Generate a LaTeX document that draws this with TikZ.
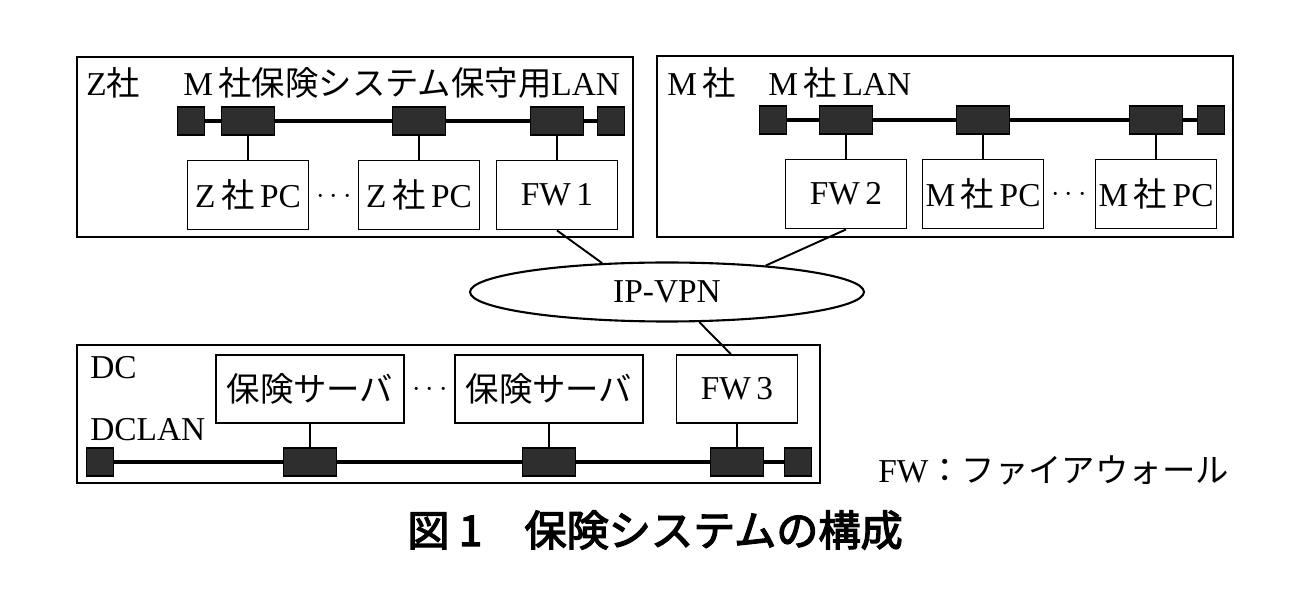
\documentclass[tikz,border=0pt]{standalone}
\usepackage{fontspec}
\setmainfont{Liberation Serif}
\newfontfamily\jafont{Noto Sans CJK JP}
\newfontfamily\capfont{Noto Sans CJK JP}[FakeBold=3]
\usetikzlibrary{shapes.geometric}
\newcommand\ja[1]{{\jafont #1}}

\begin{document}
\begin{tikzpicture}[x=0.02cm,y=-0.02cm,
    every node/.style={font=\fontsize{19}{21}\selectfont},
    unit/.style={draw,line width=1.1pt,fill=white,minimum width=2.42cm,minimum height=1.38cm,inner sep=0pt},
    srv/.style={unit,minimum width=3.76cm,minimum height=1.36cm},
    hub/.style={draw=black,fill=black!82,line width=0.6pt,minimum width=1.06cm,minimum height=0.56cm,inner sep=0pt},
    endcap/.style={hub,minimum width=0.54cm},
    site/.style={draw,line width=1.5pt},
    lbl/.style={anchor=west,inner sep=0pt},
    vpnshape/.style={ellipse,draw,line width=1.2pt,minimum width=7.88cm,minimum height=1.18cm,inner sep=0pt},
    lan/.style={line width=2pt}]

  \useasboundingbox (0,0) rectangle (1314,590);

  % sites
  \draw[site] (77,57) rectangle (633,237);
  \draw[site] (657,56) rectangle (1233,237);
  \draw[site] (77,345) rectangle (820,483);

  % labels
  \draw
    (86,83) node[lbl] (zsha){Z\ja{社}}
    (183,83) node[lbl] (zlan){M\,\ja{社保険システム保守用}LAN}
    (667,83) node[lbl] (msha){M\,\ja{社}}
    (768,83) node[lbl] (mlan){M\,\ja{社}\,LAN}
    (90,368) node[lbl] (dc){DC}
    (90,430) node[lbl] (dclan){DCLAN};

  % Z LAN
  \draw
    (191,121) node[endcap] (zt1){}
    (248,121) node[hub] (zh1){}
    (419,121) node[hub] (zh2){}
    (557,121) node[hub] (zh3){}
    (611,121) node[endcap] (zt2){};
  \draw
    (248,195) node[unit] (zpc1){Z\,\ja{社}\,PC}
    (419,195) node[unit] (zpc2){Z\,\ja{社}\,PC}
    (557,195) node[unit] (fw1){FW\,1}
    (334,197) node (zdots){$\cdots$};

  % M LAN
  \draw
    (773,120) node[endcap] (mt1){}
    (846,120) node[hub] (mh1){}
    (983,120) node[hub] (mh2){}
    (1156,120) node[hub] (mh3){}
    (1211,120) node[endcap] (mt2){};
  \draw
    (846,194) node[unit] (fw2){FW\,2}
    (983,194) node[unit] (mpc1){M\,\ja{社}\,PC}
    (1156,194) node[unit] (mpc2){M\,\ja{社}\,PC}
    (1069,195) node (mdots){$\cdots$};

  % DC LAN
  \draw
    (100,462) node[endcap] (dt1){}
    (310,462) node[hub] (dh1){}
    (549,462) node[hub] (dh2){}
    (737,462) node[hub] (dh3){}
    (798,462) node[endcap] (dt2){};
  \draw
    (310,389) node[srv] (sv1){\ja{保険サーバ}}
    (549,389) node[srv] (sv2){\ja{保険サーバ}}
    (737,389) node[unit,minimum height=1.36cm] (fw3){FW\,3}
    (430,390) node (ddots){$\cdots$};

  \draw (667,292) node[vpnshape] (vpn){IP-VPN};

  \draw
    (878,470) node[lbl] (legend){FW\ja{：ファイアウォール}}
    (655,530) node[font=\capfont\fontsize{24}{26}\selectfont] (caption){図 1　保険システムの構成};

  \begin{scope}[lan]
    \draw (zt1) -- (zh1) -- (zh2) -- (zh3) -- (zt2);
    \draw (mt1) -- (mh1) -- (mh2) -- (mh3) -- (mt2);
    \draw (dt1) -- (dh1) -- (dh2) -- (dh3) -- (dt2);
  \end{scope}
  \begin{scope}[line width=1.1pt]
    \draw (zh1) to (zpc1);
    \draw (zh2) to (zpc2);
    \draw (zh3) to (fw1);
    \draw (mh1) to (fw2);
    \draw (mh2) to (mpc1);
    \draw (mh3) to (mpc2);
    \draw (dh1) to (sv1);
    \draw (dh2) to (sv2);
    \draw (dh3) to (fw3);
    \draw (fw1.south) to (vpn.156);
    \draw (fw2.south) to (vpn.15);
    \draw (vpn.317) to (fw3.100);
  \end{scope}
\end{tikzpicture}
\end{document}
